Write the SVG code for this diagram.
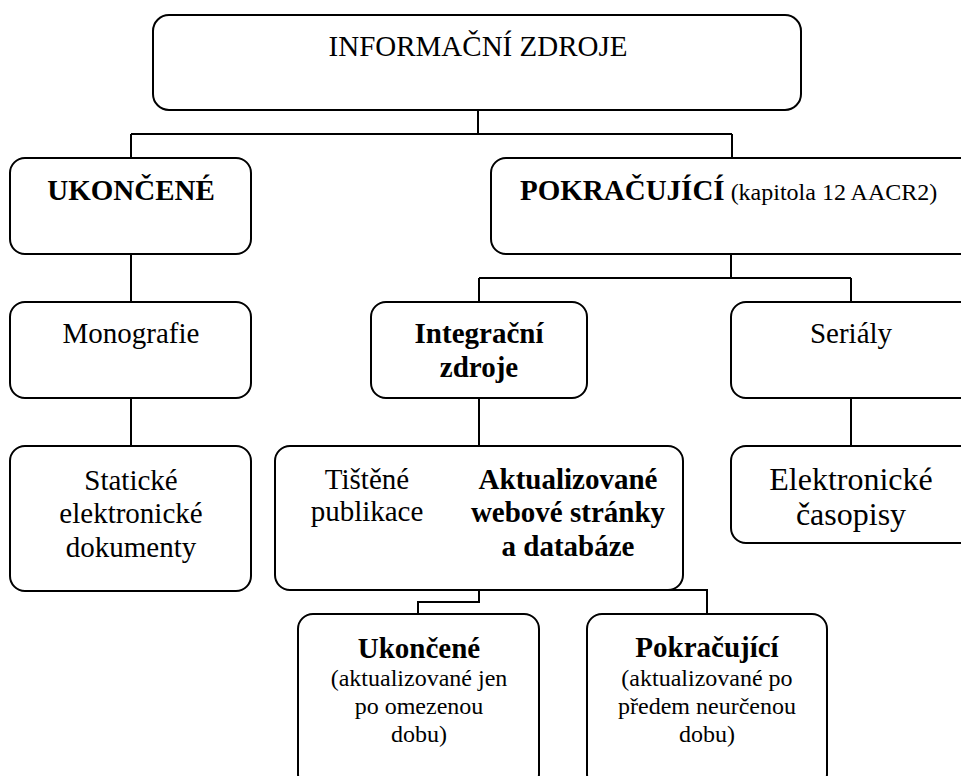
<svg xmlns="http://www.w3.org/2000/svg" width="961" height="776" viewBox="0 0 961 776">
<style>
.box{fill:#fff;stroke:#000;stroke-width:2}
.con{fill:none;stroke:#000;stroke-width:2}
text{font-family:"Liberation Serif","Times New Roman",serif;fill:#000;text-anchor:middle}
.r{font-size:29px}
.b{font-size:29px;font-weight:bold}
.s{font-size:24px}
.l{font-size:32px}
</style>
<rect width="961" height="776" fill="#fff"/>
<g id="connectors">
<path class="con" d="M478,110 V134 M131,134 H732 M131,134 V158 M732,134 V158"/>
<path class="con" d="M131,254 V302 M131,398 V446"/>
<path class="con" d="M731,254 V278 M479,278 H851 M479,278 V302 M851,278 V302"/>
<path class="con" d="M479,398 V446 M851,398 V446"/>
<path class="con" d="M479,590 V602 H418 V614 M479,590 H707 V614"/>
</g>
<g id="n-informacni">
<rect class="box" x="153" y="15" width="648" height="95" rx="16"/>
<text class="r" x="478" y="56">INFORMAČNÍ ZDROJE</text>
</g>
<g id="n-ukoncene">
<rect class="box" x="10" y="158" width="241" height="96" rx="15"/>
<text class="b" x="131" y="200">UKONČENÉ</text>
</g>
<g id="n-pokracujici">
<rect class="box" x="491" y="158" width="490" height="96" rx="15"/>
<text x="520" y="200" style="text-anchor:start"><tspan class="b">POKRAČUJÍCÍ</tspan><tspan class="s"> (kapitola 12 AACR2)</tspan></text>
</g>
<g id="n-monografie">
<rect class="box" x="10" y="302" width="241" height="96" rx="15"/>
<text class="r" x="131" y="343">Monografie</text>
</g>
<g id="n-integracni">
<rect class="box" x="371" y="302" width="216" height="96" rx="15"/>
<text class="b" x="479" y="343">Integrační</text>
<text class="b" x="479" y="377">zdroje</text>
</g>
<g id="n-serialy">
<rect class="box" x="731" y="302" width="250" height="96" rx="15"/>
<text class="r" x="851" y="343">Seriály</text>
</g>
<g id="n-staticke">
<rect class="box" x="10" y="446" width="241" height="145" rx="15"/>
<text class="r" x="131" y="490">Statické</text>
<text class="r" x="131" y="523">elektronické</text>
<text class="r" x="131" y="557">dokumenty</text>
</g>
<g id="n-tistene">
<rect class="box" x="275" y="446" width="408" height="144" rx="15"/>
<text class="r" x="367" y="489">Tištěné</text>
<text class="r" x="367" y="521">publikace</text>
<text class="b" x="568" y="489">Aktualizované</text>
<text class="b" x="568" y="522">webové stránky</text>
<text class="b" x="568" y="556">a databáze</text>
</g>
<g id="n-elektronicke">
<rect class="box" x="731" y="446" width="250" height="97" rx="15"/>
<text class="l" x="851" y="490">Elektronické</text>
<text class="l" x="851" y="525">časopisy</text>
</g>
<g id="n-ukoncene2">
<rect class="box" x="298" y="614" width="241" height="175" rx="15"/>
<text class="b" x="419" y="658">Ukončené</text>
<text class="s" x="419" y="686">(aktualizované jen</text>
<text class="s" x="419" y="714">po omezenou</text>
<text class="s" x="419" y="742">dobu)</text>
</g>
<g id="n-pokracujici2">
<rect class="box" x="587" y="614" width="240" height="175" rx="15"/>
<text class="b" x="707" y="657">Pokračující</text>
<text class="s" x="707" y="686">(aktualizované po</text>
<text class="s" x="707" y="714">předem neurčenou</text>
<text class="s" x="707" y="742">dobu)</text>
</g>
</svg>
